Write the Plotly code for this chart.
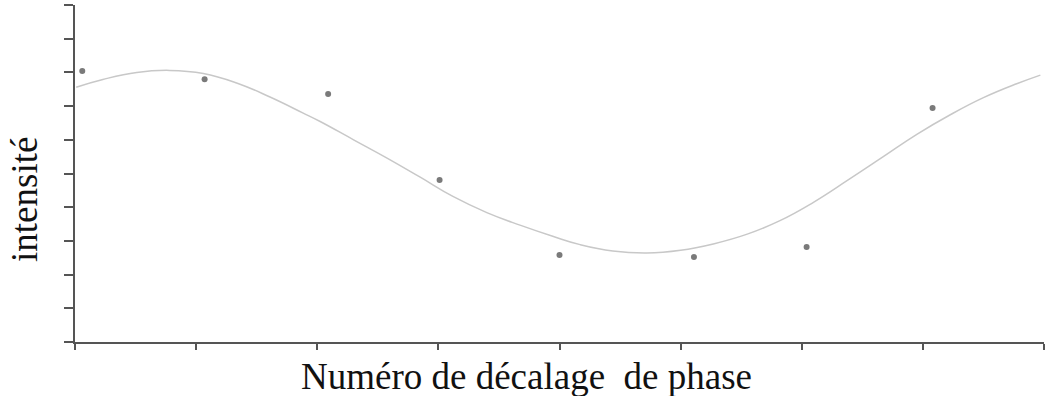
import plotly.graph_objects as go

# Measured intensity at each phase-shift step
phase_step = [0.06, 1.07, 2.09, 3.01, 4.0, 5.11, 6.04, 7.08]
intensity = [8.04, 7.80, 7.36, 4.81, 2.58, 2.52, 2.82, 6.94]

# Fitted curve, sampled along its length
fit_x = [0.01, 0.23, 0.51, 0.78, 1.06, 1.34, 1.61, 1.88, 2.02, 2.30, 2.58,
         2.85, 3.12, 3.40, 3.68, 3.95, 4.17, 4.44, 4.72, 5.00, 5.27, 5.55,
         5.82, 6.09, 6.38, 6.67, 6.95, 7.23, 7.50, 7.78, 7.97]
fit_y = [7.56, 7.79, 8.00, 8.06, 7.97, 7.68, 7.27, 6.80, 6.55, 6.00, 5.45,
         4.89, 4.32, 3.84, 3.46, 3.13, 2.89, 2.70, 2.64, 2.72, 2.91, 3.20,
         3.60, 4.13, 4.80, 5.49, 6.16, 6.75, 7.25, 7.67, 7.92]

x_ticks = [0, 1, 2, 3, 4, 5, 6, 7, 8]
y_ticks = [0, 1, 2, 3, 4, 5, 6, 7, 8, 9, 10]

fig = go.Figure()
fig.add_trace(go.Scatter(
    x=fit_x, y=fit_y, mode="lines",
    line=dict(color="#c8c8c8", width=1.5, shape="spline", smoothing=1.3),
    hoverinfo="skip",
))
fig.add_trace(go.Scatter(
    x=phase_step, y=intensity, mode="markers",
    marker=dict(color="#7a7a7a", size=6),
))

serif = "Liberation Serif, Times New Roman, serif"

fig.update_layout(
    width=1047, height=396,
    margin=dict(l=75, r=3, t=5, b=54),
    paper_bgcolor="white", plot_bgcolor="white",
    showlegend=False,
    xaxis=dict(
        range=[0, 8], tickvals=x_ticks, showticklabels=False,
        ticks="outside", ticklen=6, tickwidth=1.5, tickcolor="#555555",
        showline=True, linecolor="#555555", linewidth=1.5,
        showgrid=False, zeroline=False,
    ),
    yaxis=dict(
        range=[0, 10], tickvals=y_ticks, showticklabels=False,
        ticks="outside", ticklen=9, tickwidth=1.5, tickcolor="#555555",
        showline=True, linecolor="#555555", linewidth=1.5,
        showgrid=False, zeroline=False,
    ),
    annotations=[
        dict(text="Numéro de décalage\u00a0 de phase", xref="paper", yref="paper",
             x=(526 - 75) / 969, y=-(376 - 342) / 337, showarrow=False,
             xanchor="center", yanchor="middle",
             font=dict(family=serif, size=37, color="#111111")),
        dict(text="intensité", xref="paper", yref="paper",
             x=-(75 - 24) / 969, y=(342 - 200) / 337, showarrow=False,
             textangle=-90, xanchor="center", yanchor="middle",
             font=dict(family=serif, size=37, color="#111111")),
    ],
)

fig.write_html("out.html")
